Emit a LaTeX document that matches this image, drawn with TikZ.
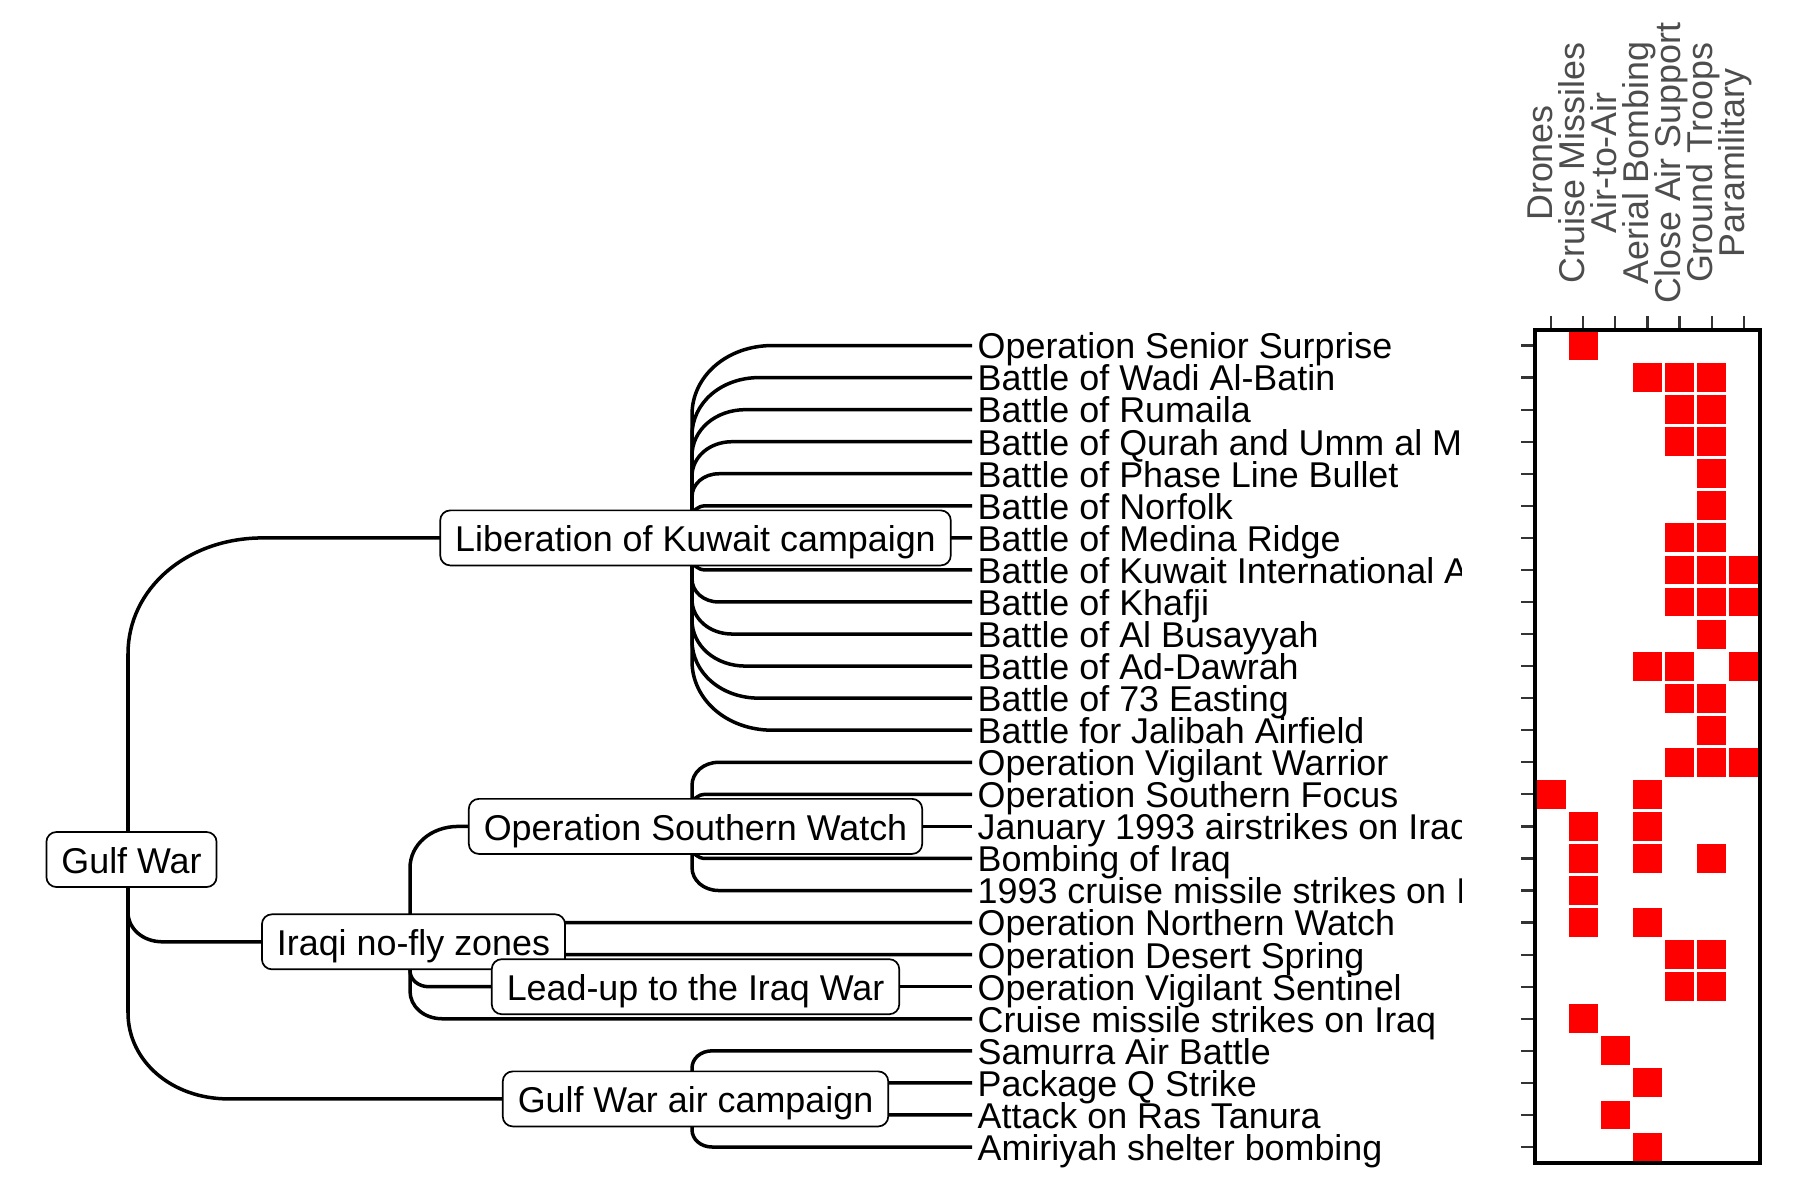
\documentclass[tikz,border=0pt]{standalone}
\usepackage{fontspec}
\setmainfont{Liberation Sans}
\usetikzlibrary{calc,backgrounds}
\definecolor{axisgray}{HTML}{4D4D4D}
\definecolor{tickgray}{HTML}{333333}

\begin{document}
\begin{tikzpicture}[x=0.01cm,y=-0.01cm,
    font=\fontsize{10.2pt}{12pt}\selectfont,
    box/.style={draw,line width=0.017cm,fill=white,rounded corners=0.1cm,
      inner xsep=0.15cm,inner ysep=0pt,minimum height=0.55cm,
      text height=0.8em,text depth=0pt},
    leaf/.style={anchor=west,inner xsep=0.05cm,inner ysep=0pt,
      text height=0.76em,text depth=0pt},
    collab/.style={rotate=90,anchor=base,inner sep=0pt,text=axisgray},
    edge/.style={line width=0.035cm},
    tick/.style={tickgray,line width=0.022cm},
    cell/.style={fill=red},
    elbow/.style={to path={let \p1=(\tikztostart), \p2=(\tikztotarget),
      \n1={abs(\y2-\y1)}, \n2={sign(\y2-\y1)} in
      -- (\x1,{\y2-\n2*0.36*\n1})
      .. controls (\x1,{\y2-\n2*0.16*\n1}) and ({\x1+0.18*\n1},\y2) ..
      ({\x1+0.42*\n1},\y2) -- (\tikztotarget)}}]
  \useasboundingbox (0,0) rectangle (1800,1200);

  \node[box] (gulf) at (131.5,859.5) {Gulf War};
  \node[box] (lib) at (695.5,537.9) {Liberation of Kuwait campaign};
  \node[box] (nofly) at (413.5,941.8) {Iraqi no-fly zones};
  \node[box] (sw) at (695.5,826.4) {Operation Southern Watch};
  \node[box] (lead) at (695.5,986.7) {Lead-up to the Iraq War};
  \node[box] (air) at (695.5,1098.9) {Gulf War air campaign};

  \begin{scope}
    \clip (960,300) rectangle (1461,1190);
    \foreach \lab [count=\i from 0] in {Operation Senior Surprise,
        Battle of Wadi Al-Batin, Battle of Rumaila,
        Battle of Qurah and Umm al Maradim, Battle of Phase Line Bullet,
        Battle of Norfolk, Battle of Medina Ridge,
        Battle of Kuwait International Airport, Battle of Khafji,
        Battle of Al Busayyah, Battle of Ad-Dawrah, Battle of 73 Easting,
        Battle for Jalibah Airfield, Operation Vigilant Warrior,
        Operation Southern Focus, January 1993 airstrikes on Iraq,
        Bombing of Iraq, 1993 cruise missile strikes on Iraq,
        Operation Northern Watch, Operation Desert Spring,
        Operation Vigilant Sentinel, Cruise missile strikes on Iraq,
        Samurra Air Battle, Package Q Strike, Attack on Ras Tanura,
        Amiriyah shelter bombing}
      \node[leaf] (l\i) at (972,{345.5+32.06*\i}) {\lab};
  \end{scope}

  \begin{scope}[on background layer]
    \foreach \c in {lib,nofly,air}
      \draw[edge] ([xshift=-0.035cm]gulf.center) to[elbow] (\c.center);
    \foreach \i in {0,...,12}
      \draw[edge] ([xshift=-0.035cm]lib.center) to[elbow] (l\i.west);
    \foreach \c in {sw.center,l18.west,l19.west,lead.center,l21.west}
      \draw[edge] ([xshift=-0.035cm]nofly.center) to[elbow] (\c);
    \foreach \i in {13,...,17}
      \draw[edge] ([xshift=-0.035cm]sw.center) to[elbow] (l\i.west);
    \draw[edge] ([xshift=-0.035cm]lead.center) to[elbow] (l20.west);
    \foreach \i in {22,...,25}
      \draw[edge] ([xshift=-0.035cm]air.center) to[elbow] (l\i.west);
  \end{scope}

  \foreach \r/\c in {0/1, 1/3,1/4,1/5, 2/4,2/5, 3/4,3/5, 4/5, 5/5, 6/4,6/5,
      7/4,7/5,7/6, 8/4,8/5,8/6, 9/5, 10/3,10/4,10/6, 11/4,11/5, 12/5,
      13/4,13/5,13/6, 14/0,14/3, 15/1,15/3, 16/1,16/3,16/5, 17/1,
      18/1,18/3, 19/4,19/5, 20/4,20/5, 21/1, 22/2, 23/3, 24/2, 25/3}
    \fill[cell] ({1535+32.14*\c+1.6},{329.5+32.06*\r+1.6})
      rectangle ++(28.9,28.9);
  \draw[line width=0.04cm] (1535,329.5) rectangle (1760,1163);

  \foreach \j in {0,...,6}
    \draw[tick] ({1551+32.14*\j},316) -- ++(0,11.5);
  \foreach \i in {0,...,25}
    \draw[tick] (1521,{345.5+32.06*\i}) -- ++(11.5,0);

  \foreach \lab [count=\j from 0] in {Drones, Cruise Missiles, Air-to-Air,
      Aerial Bombing, Close Air Support, Ground Troops, Paramilitary}
    \node[collab] (c\j) at ({1552+32.14*\j},163) {\lab};
\end{tikzpicture}
\end{document}
